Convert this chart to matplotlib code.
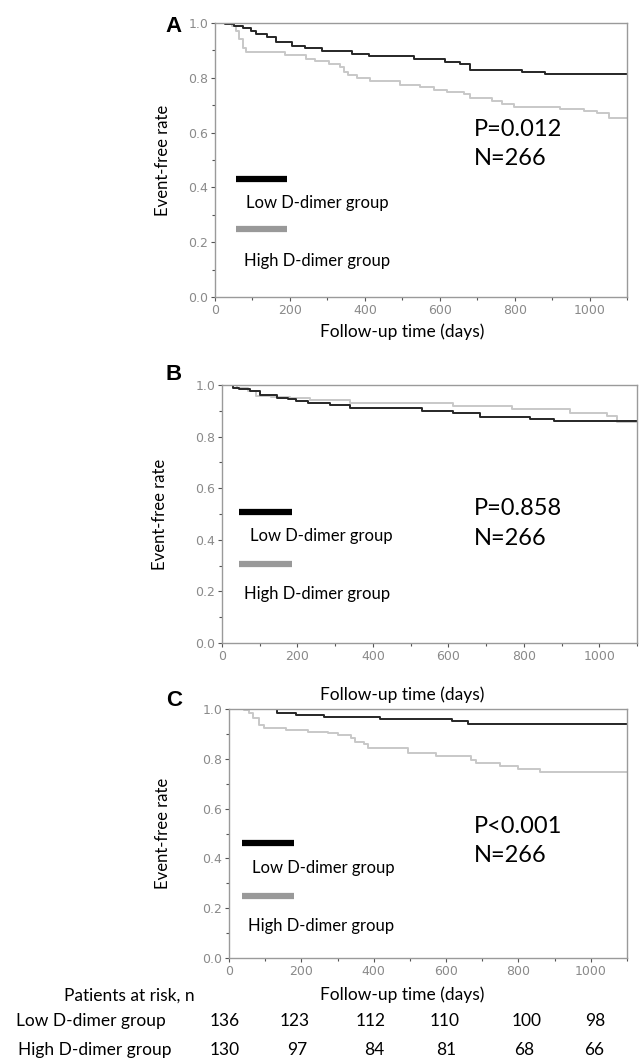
import numpy as np
import matplotlib
matplotlib.use("Agg")
import matplotlib.pyplot as plt
from matplotlib.ticker import MultipleLocator

plt.rcParams['font.family'] = ['Lato', 'DejaVu Sans']

# --- Kaplan-Meier step data (days, event-free rate) ---
a_low_t = [0, 28, 50, 75, 95, 110, 140, 162, 206, 240, 286, 366, 411, 531, 615, 655, 682, 820, 882, 1100]
a_low_s = [1.0, 0.995, 0.99, 0.98, 0.97, 0.96, 0.95, 0.931, 0.916, 0.91, 0.897, 0.888, 0.880, 0.870, 0.858, 0.85, 0.830, 0.822, 0.813, 0.813]
a_high_t = [0, 46, 55, 65, 75, 82, 188, 242, 268, 304, 335, 345, 355, 380, 415, 495, 548, 584, 620, 664, 682, 739, 766, 797, 922, 984, 1020, 1051, 1100]
a_high_s = [1.0, 0.99, 0.97, 0.94, 0.91, 0.894, 0.885, 0.87, 0.86, 0.85, 0.84, 0.82, 0.81, 0.80, 0.79, 0.775, 0.765, 0.755, 0.75, 0.74, 0.725, 0.715, 0.705, 0.695, 0.685, 0.68, 0.67, 0.655, 0.655]

b_low_t = [0, 28, 45, 75, 100, 145, 175, 197, 228, 285, 338, 529, 613, 684, 817, 879, 1047, 1100]
b_low_s = [1.0, 0.99, 0.985, 0.975, 0.96, 0.951, 0.945, 0.938, 0.932, 0.923, 0.91, 0.90, 0.89, 0.877, 0.868, 0.861, 0.86, 0.86]
b_high_t = [0, 40, 70, 90, 130, 180, 232, 338, 613, 768, 923, 1020, 1047, 1100]
b_high_s = [1.0, 0.99, 0.975, 0.958, 0.953, 0.948, 0.943, 0.932, 0.92, 0.907, 0.893, 0.88, 0.856, 0.856]

c_low_t = [0, 134, 185, 263, 416, 615, 661, 1100]
c_low_s = [1.0, 0.985, 0.976, 0.966, 0.958, 0.95, 0.941, 0.941]
c_high_t = [0, 42, 55, 65, 83, 97, 157, 217, 273, 300, 337, 347, 374, 383, 494, 573, 670, 684, 749, 800, 860, 1100]
c_high_s = [1.0, 0.995, 0.983, 0.962, 0.935, 0.922, 0.915, 0.909, 0.902, 0.895, 0.882, 0.869, 0.858, 0.845, 0.824, 0.811, 0.795, 0.784, 0.771, 0.759, 0.748, 0.748]

p_values = ["P=0.012", "P=0.858", "P<0.001"]
n_text = "N=266"
panel_letters = ["A", "B", "C"]
group_names = ["Low D-dimer group", "High D-dimer group"]

risk_days = [0, 200, 400, 600, 800, 1000]
risk_low = [136, 123, 112, 110, 100, 98]
risk_high = [130, 97, 84, 81, 68, 66]

W, H = 644, 1058
fig = plt.figure(figsize=(W / 100, H / 100), dpi=100)

def px_axes(left, top, right, bottom):
    return fig.add_axes([left / W, 1 - bottom / H, (right - left) / W, (bottom - top) / H])

low_col = '#262626'
high_col = '#c8c8c8'
spine_col = '#9a9a9a'

panels = [
    dict(box=(215, 23, 627, 297), low=(a_low_t, a_low_s), high=(a_high_t, a_high_s),
         bar_x=(55, 193), bars=(0.43, 0.247), txt=((82, 0.343), (77, 0.131)), p=(690, 0.612, 0.504),
         letter=(174, 27), ylab=163, xlab=332),
    dict(box=(222, 385, 637, 643), low=(b_low_t, b_low_s), high=(b_high_t, b_high_s),
         bar_x=(44, 185), bars=(0.508, 0.306), txt=((73, 0.415), (59, 0.19)), p=(668, 0.52, 0.404),
         letter=(174, 375), ylab=160, xlab=695),
    dict(box=(229, 709, 627, 958), low=(c_low_t, c_low_s), high=(c_high_t, c_high_s),
         bar_x=(35, 180), bars=(0.461, 0.251), txt=((63, 0.362), (53, 0.129)), p=(676, 0.527, 0.413),
         letter=(174, 700), ylab=163, xlab=995),
]

for i, pn in enumerate(panels):
    ax = px_axes(*pn['box'])
    ax.step(pn['high'][0], pn['high'][1], where='post', color=high_col, lw=1.4)
    ax.step(pn['low'][0], pn['low'][1], where='post', color=low_col, lw=1.4)
    ax.set_xlim(0, 1100)
    ax.set_ylim(0, 1.0)
    ax.xaxis.set_major_locator(MultipleLocator(200))
    ax.xaxis.set_minor_locator(MultipleLocator(100))
    ax.yaxis.set_major_locator(MultipleLocator(0.2))
    ax.yaxis.set_minor_locator(MultipleLocator(0.1))
    ax.yaxis.set_major_formatter(lambda v, pos: f"{v:.1f}")
    for s in ax.spines.values():
        s.set_color(spine_col)
        s.set_linewidth(1.0)
    ax.tick_params(which='both', direction='out', color='#555555', length=3, width=0.8,
                   labelsize=9, labelcolor='#8a8a8a', pad=2)
    ax.tick_params(which='minor', length=2)
    for lab in ax.get_xticklabels() + ax.get_yticklabels():
        lab.set_family('DejaVu Sans')

    # legend drawn inside the plot
    x0, x1 = pn['bar_x']
    ax.plot([x0, x1], [pn['bars'][0]] * 2, color='black', lw=4.5, solid_capstyle='butt')
    ax.plot([x0, x1], [pn['bars'][1]] * 2, color='#999999', lw=4.5, solid_capstyle='butt')
    for (tx, ty), name in zip(pn['txt'], group_names):
        ax.text(tx, ty, name, fontsize=12, va='center', ha='left')
    px, py1, py2 = pn['p']
    ax.text(px, py1, p_values[i], fontsize=17, va='center', ha='left')
    ax.text(px, py2, n_text, fontsize=17, va='center', ha='left')

    lx, ly = pn['letter']
    fig.text(lx / W, 1 - ly / H, panel_letters[i], fontsize=16, fontweight='bold',
             family='Liberation Sans', ha='center', va='center')
    l, t, r, b = pn['box']
    fig.text(pn['ylab'] / W, 1 - (t + b) / 2 / H, "Event-free rate", rotation=90,
             fontsize=12, ha='center', va='center')
    fig.text(402 / W, 1 - pn['xlab'] / H, "Follow-up time (days)", fontsize=12.5,
             ha='center', va='center')

# number-at-risk table
fig.text(129 / W, 1 - 996 / H, "Patients at risk, n", fontsize=12.5, ha='center', va='center')
fig.text(91 / W, 1 - 1021 / H, group_names[0], fontsize=12.5, ha='center', va='center')
fig.text(95 / W, 1 - 1050 / H, group_names[1], fontsize=12.5, ha='center', va='center')
low_x = [225, 295, 371, 445, 527, 595]
high_x = [225, 297, 374, 446, 524, 594]
for x, v in zip(low_x, risk_low):
    fig.text(x / W, 1 - 1021 / H, str(v), fontsize=12.5, ha='center', va='center')
for x, v in zip(high_x, risk_high):
    fig.text(x / W, 1 - 1050 / H, str(v), fontsize=12.5, ha='center', va='center')

fig.savefig("out.png", dpi=100)
